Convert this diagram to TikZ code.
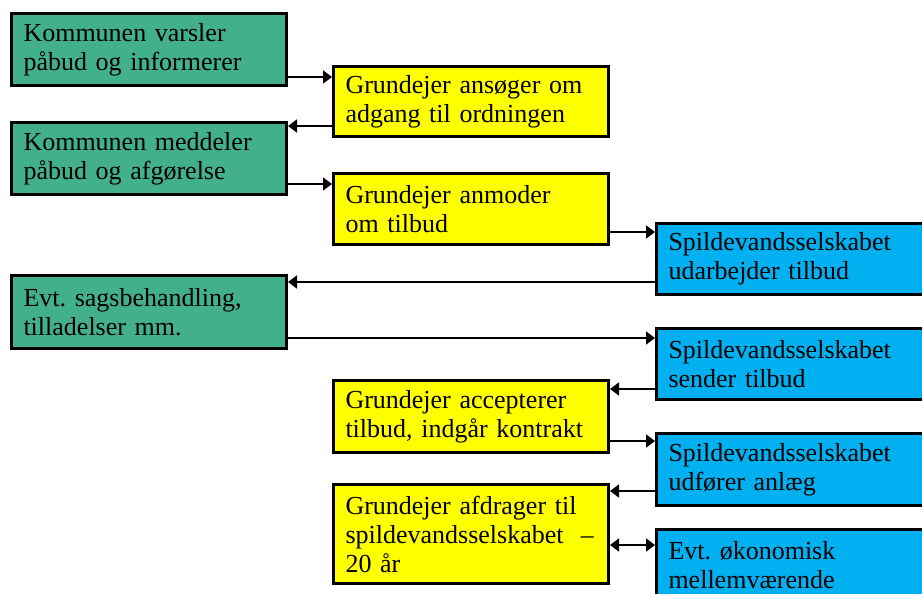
\documentclass[tikz,border=0pt]{standalone}
\usepackage{fontspec}
\setmainfont{Liberation Serif}
\usetikzlibrary{arrows.meta}
\definecolor{kommune}{RGB}{67,176,140}
\definecolor{grundejer}{RGB}{255,255,0}
\definecolor{selskab}{RGB}{0,176,240}
\tikzset{
  box/.style={draw=black, line width=3pt, anchor=north west,
    minimum width=275pt, inner xsep=12pt, text width=251pt, align=left,
    font=\fontsize{26}{29}\selectfont\frenchspacing},
  kbox/.style={box, fill=kommune, minimum height=72pt},
  gbox/.style={box, fill=grundejer, minimum height=71pt},
  sbox/.style={box, fill=selskab, minimum height=71pt},
  flow/.style={line width=1.6pt, -{Triangle[length=9pt,width=13pt]}},
  both/.style={line width=1.6pt, {Triangle[length=9pt,width=13pt]}-{Triangle[length=9pt,width=13pt]}},
}

\begin{document}
\begin{tikzpicture}[x=1pt,y=-1pt]
  \clip (0,0) rectangle (922,594);
  % kommunen
  \node[kbox] (k1) at (10,12) {Kommunen varsler\\påbud og informerer};
  \node[kbox] (k2) at (10,121) {Kommunen meddeler\\påbud og afgørelse};
  \node[kbox, minimum height=73pt] (k3) at (10,274) {Evt. sagsbehandling,\\tilladelser mm.};
  % grundejer
  \node[gbox, minimum height=70pt] (g1) at (332,65) {Grundejer ansøger om\\adgang til ordningen};
  \node[gbox] (g2) at (332,172) {Grundejer anmoder\\om tilbud};
  \node[gbox, minimum height=72pt] (g3) at (332,379) {Grundejer accepterer\\tilbud, indgår kontrakt};
  \node[gbox, minimum height=99pt] (g4) at (332,483) {Grundejer afdrager til\\spildevandsselskabet~~--\\20 år};
  % spildevandsselskabet
  \node[sbox] (s1) at (655,222) {Spildevandsselskabet\\udarbejder tilbud};
  \node[sbox] (s2) at (655,327) {Spildevandsselskabet\\sender tilbud};
  \node[sbox, minimum height=72pt] (s3) at (655,432) {Spildevandsselskabet\\udfører anlæg};
  \node[sbox, minimum height=72pt] (s4) at (655,528) {Evt. økonomisk\\mellemværende};

  \draw[flow] (k1.east |- 0,77) -- (g1.west |- 0,77);
  \draw[flow] (g1.west |- 0,126) -- (k2.east |- 0,126);
  \draw[flow] (k2.east |- 0,184) -- (g2.west |- 0,184);
  \draw[flow] (g2.east |- 0,232) -- (s1.west |- 0,232);
  \draw[flow] (s1.west |- 0,282) -- (k3.east |- 0,282);
  \draw[flow] (k3.east |- 0,338) -- (s2.west |- 0,338);
  \draw[flow] (s2.west |- 0,389) -- (g3.east |- 0,389);
  \draw[flow] (g3.east |- 0,441) -- (s3.west |- 0,441);
  \draw[flow] (s3.west |- 0,491) -- (g4.east |- 0,491);
  \draw[both] (g4.east |- 0,545) -- (s4.west |- 0,545);
\end{tikzpicture}
\end{document}
